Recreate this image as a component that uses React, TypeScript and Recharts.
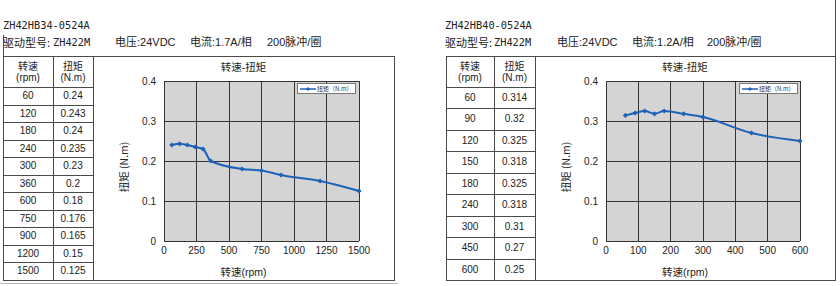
import { LineChart, Line, XAxis, YAxis, CartesianGrid, Legend } from 'recharts';

// ZH42HB34-0524A
const speedA = [60, 120, 180, 240, 300, 360, 600, 750, 900, 1200, 1500];
const torqueA = [0.24, 0.243, 0.24, 0.235, 0.23, 0.2, 0.18, 0.176, 0.165, 0.15, 0.125];
const speedTicksA = [0, 250, 500, 750, 1000, 1250, 1500];

// ZH42HB40-0524A
const speedB = [60, 90, 120, 150, 180, 240, 300, 450, 600];
const torqueB = [0.314, 0.32, 0.325, 0.318, 0.325, 0.318, 0.31, 0.27, 0.25];
const speedTicksB = [0, 100, 200, 300, 400, 500, 600];

const torqueTicks = [0, 0.1, 0.2, 0.3, 0.4];

const BLUE = '#1b62b8';
const LINE = '#4a4a4a';
const GRID = '#333';
const SANS = '"Liberation Sans", Arial, "Noto Sans CJK SC", sans-serif';
const CJK = '"Noto Sans CJK SC", "Liberation Sans", sans-serif';
const MONO = '"DejaVu Sans Mono", "Liberation Mono", monospace';

const TOP = 56;
const HEAD_BOTTOM = 87;
const BOTTOM = 280;

function renderLegend(props: any) {
  const item = props.payload && props.payload[0];
  return (
    <div
      style={{
        width: 57,
        height: 9,
        border: '1px solid #777',
        background: '#fff',
        display: 'flex',
        alignItems: 'center',
        fontFamily: CJK,
        fontSize: 6,
        color: '#333',
        lineHeight: '9px',
      }}
    >
      <svg width={16} height={6} style={{ marginLeft: 2, marginRight: 1 }}>
        <line x1={0} y1={3} x2={16} y2={3} stroke={BLUE} strokeWidth={1.5} />
        <path d="M8,1L10,3L8,5L6,3Z" fill={BLUE} />
      </svg>
      <span>{item ? item.value : ''}</span>
    </div>
  );
}

function Marker(props: any) {
  const { cx, cy, index } = props;
  if (cx == null || cy == null) return <g key={index} />;
  return (
    <path
      key={index}
      d={`M${cx},${cy - 2.6}L${cx + 2.6},${cy}L${cx},${cy + 2.6}L${cx - 2.6},${cy}Z`}
      fill={BLUE}
    />
  );
}

function YLabel(props: any) {
  const vb = props.viewBox || { x: 0, y: 0, width: 0, height: 0 };
  const x = vb.x + 29;
  const y = vb.y + vb.height / 2 + 6;
  return (
    <text
      x={x}
      y={y}
      transform={`rotate(-90 ${x} ${y})`}
      textAnchor="middle"
      dominantBaseline="central"
      fontSize={10.5}
      fontFamily={CJK}
      fill="#222"
    >
      扭矩 (N.m)
    </text>
  );
}

type PanelProps = {
  model: string;
  current: string;
  textX: number[];
  cols: number[];
  speeds: number[];
  torques: number[];
  xTicks: number[];
  xMax: number;
};

function Panel({ model, current, textX, cols, speeds, torques, xTicks, xMax }: PanelProps) {
  const data = speeds.map((s, i) => ({ speed: s, torque: torques[i] }));
  const rowH = (BOTTOM - HEAD_BOTTOM) / speeds.length;
  const [c0, c1, c2, c3] = cols;
  const boxCenter = (c2 + c3) / 2;
  const chartW = c3 - c2 - 1;

  const hLine = (y: number, x1: number, x2: number, key: string, color = LINE) => (
    <div key={key} style={{ position: 'absolute', left: x1, top: y, width: x2 - x1 + 1, height: 1, background: color }} />
  );
  const vLine = (x: number, y1: number, y2: number, key: string) => (
    <div key={key} style={{ position: 'absolute', left: x, top: y1, width: 1, height: y2 - y1 + 1, background: LINE }} />
  );
  const textAt = (x: number, y: number, s: string, font: string, size: number, key: string) => (
    <div
      key={key}
      style={{ position: 'absolute', left: x, top: y - 7, height: 14, lineHeight: '14px', fontFamily: font, fontSize: size, color: '#222', whiteSpace: 'nowrap' }}
    >
      {s}
    </div>
  );
  const cell = (x1: number, x2: number, y: number, h: number, s: string, key: string, font = SANS) => (
    <div
      key={key}
      style={{ position: 'absolute', left: x1, top: y, width: x2 - x1, height: h, lineHeight: `${h}px`, textAlign: 'center', fontFamily: font, fontSize: 10, color: '#222' }}
    >
      {s}
    </div>
  );

  return (
    <>
      {textAt(textX[0], 25, model, MONO, 10.3, 'model')}
      {textAt(textX[0], 42, '驱动型号:', CJK, 11, 'drv')}
      {textAt(textX[1], 42, 'ZH422M', MONO, 10.3, 'drvm')}
      {textAt(textX[2], 42, '电压:24VDC', SANS, 11, 'v')}
      {textAt(textX[3], 42, current, SANS, 11, 'a')}
      {textAt(textX[4], 42, '200脉冲/圈', SANS, 11, 'p')}

      {hLine(TOP, c0, c3, 'top')}
      {hLine(HEAD_BOTTOM, c0, c2, 'head')}
      {speeds.map((_, i) => (i > 0 ? hLine(HEAD_BOTTOM + i * rowH, c0, c2, `r${i}`) : null))}
      {hLine(BOTTOM, c0, c3, 'bottom')}
      {vLine(c0, TOP, BOTTOM, 'v0')}
      {vLine(c1, TOP, BOTTOM, 'v1')}
      {vLine(c2, TOP, BOTTOM, 'v2')}
      {vLine(c3, TOP, BOTTOM, 'v3')}

      {cell(c0, c1, 60, 11, '转速', 'h1a', CJK)}
      {cell(c0, c1, 72, 11, '(rpm)', 'h1b')}
      {cell(c1, c2, 60, 11, '扭矩', 'h2a', CJK)}
      {cell(c1, c2, 72, 11, '(N.m)', 'h2b')}
      {speeds.map((s, i) => cell(c0, c1, HEAD_BOTTOM + i * rowH, rowH, String(s), `s${i}`))}
      {torques.map((t, i) => cell(c1, c2, HEAD_BOTTOM + i * rowH, rowH, String(t), `t${i}`))}

      <div style={{ position: 'absolute', left: boxCenter - 60, top: 59, width: 120, textAlign: 'center', fontFamily: CJK, fontSize: 10.5, lineHeight: '16px', color: '#222' }}>
        转速-扭矩
      </div>
      <div style={{ position: 'absolute', left: boxCenter - 60, top: 264, width: 120, textAlign: 'center', fontFamily: SANS, fontSize: 10.5, lineHeight: '16px', color: '#222' }}>
        转速(rpm)
      </div>

      <div style={{ position: 'absolute', left: c2 + 1, top: TOP }}>
        <LineChart width={chartW} height={BOTTOM - TOP} data={data} margin={{ top: 25, right: 35, bottom: 9, left: 0 }}>
          <CartesianGrid stroke={GRID} strokeWidth={1} fill="#d4d4d4" fillOpacity={1} shapeRendering="crispEdges" />
          <XAxis
            dataKey="speed"
            type="number"
            domain={[0, xMax]}
            ticks={xTicks}
            interval={0}
            height={30}
            tickLine={false}
            tickSize={4}
            axisLine={{ stroke: '#333', shapeRendering: 'crispEdges' }}
            tick={{ fill: '#222', fontSize: 10, fontFamily: SANS }}
          />
          <YAxis
            type="number"
            domain={[0, 0.4]}
            ticks={torqueTicks}
            interval={0}
            width={70}
            tickLine={false}
            axisLine={{ stroke: '#333', shapeRendering: 'crispEdges' }}
            tick={{ fill: '#222', fontSize: 10, fontFamily: SANS }}
            label={{ content: YLabel }}
          />
          <Legend
            layout="vertical"
            align="center"
            verticalAlign="middle"
            wrapperStyle={{ top: 27, left: 203, width: 60, height: 11 }}
            content={renderLegend}
          />
          <Line
            type="monotone"
            dataKey="torque"
            name="扭矩（N.m）"
            stroke={BLUE}
            strokeWidth={2}
            dot={Marker}
            activeDot={false}
            isAnimationActive={false}
          />
        </LineChart>
      </div>
    </>
  );
}

export default function App() {
  return (
    <div style={{ position: 'absolute', left: 0, top: 0, width: 840, height: 286, background: '#fff', overflow: 'hidden' }}>
      <Panel
        model="ZH42HB34-0524A"
        current="电流:1.7A/相"
        textX={[3, 53, 115, 190, 267]}
        cols={[3, 53, 93, 394]}
        speeds={speedA}
        torques={torqueA}
        xTicks={speedTicksA}
        xMax={1500}
      />
      <Panel
        model="ZH42HB40-0524A"
        current="电流:1.2A/相"
        textX={[445, 494, 557, 632, 707]}
        cols={[446, 494, 535, 835]}
        speeds={speedB}
        torques={torqueB}
        xTicks={speedTicksB}
        xMax={600}
      />
      <div style={{ position: 'absolute', left: 3, top: 35, width: 1, height: 21, background: LINE }} />
      <div style={{ position: 'absolute', left: 835, top: 0, width: 1, height: 56, background: LINE }} />
      <div style={{ position: 'absolute', left: 0, top: 283, width: 398, height: 1, background: '#bbb' }} />
    </div>
  );
}
